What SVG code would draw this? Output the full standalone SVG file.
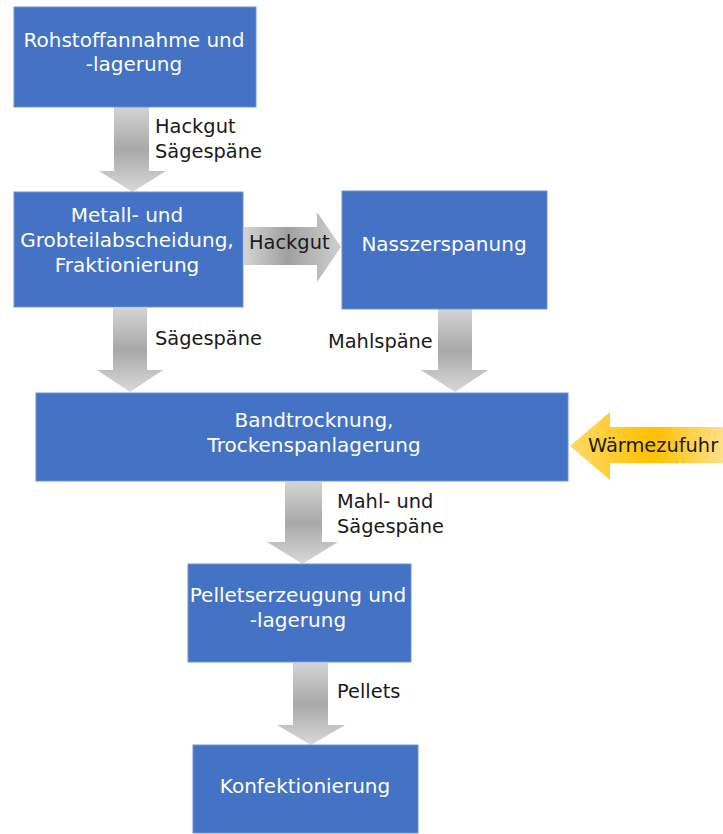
<svg xmlns="http://www.w3.org/2000/svg" width="723" height="834" viewBox="0 0 723 834">
<style>
.box{fill:#4472C4;stroke:#6F93D6;stroke-width:1}
.bt{fill:#fff;font-family:"DejaVu Sans",Verdana,sans-serif;font-size:20px;text-anchor:middle}
.lb{fill:#1a1a1a;font-family:"DejaVu Sans",Verdana,sans-serif;font-size:19.4px}
</style>
<defs>
<linearGradient id="gv" x1="0" y1="0" x2="0" y2="1">
<stop offset="0" stop-color="#D4D4D4"/><stop offset="0.5" stop-color="#A8A8A8"/><stop offset="1" stop-color="#D9D9D9"/>
</linearGradient>
<linearGradient id="gh" x1="0" y1="0" x2="1" y2="0">
<stop offset="0" stop-color="#D4D4D4"/><stop offset="0.45" stop-color="#A0A0A0"/><stop offset="1" stop-color="#D0D0D0"/>
</linearGradient>
<linearGradient id="gy" x1="0" y1="0" x2="1" y2="0">
<stop offset="0" stop-color="#FFD966"/><stop offset="0.55" stop-color="#FFC000"/><stop offset="1" stop-color="#FFE08A"/>
</linearGradient>
</defs>
<g id="connectors">
<path d="M114,107 H149 V171 H166 L132.5,192 L99,171 H114 Z" fill="url(#gv)"/>
<path d="M244,227 H317 V212 L341,247 L317,282 V265 H244 Z" fill="url(#gh)"/>
<path d="M113,308 H147 V370 H163 L130,392 L97,370 H113 Z" fill="url(#gv)"/>
<path d="M438,309 H472 V370 H488 L455,392 L421,370 H438 Z" fill="url(#gv)"/>
<path d="M285,482 H322 V542 H338 L302.5,564 L267,542 H285 Z" fill="url(#gv)"/>
<path d="M293,663 H328 V725 H345 L311,745 L277,725 H293 Z" fill="url(#gv)"/>
<path d="M723,427 H610 V412 L570,446 L610,480 V463 H723 Z" fill="url(#gy)"/>
<text class="lb" x="155" y="133">Hackgut</text>
<text class="lb" x="155" y="158">Sägespäne</text>
<text class="lb" x="249" y="249">Hackgut</text>
<text class="lb" x="155" y="345">Sägespäne</text>
<text class="lb" x="328" y="348">Mahlspäne</text>
<text class="lb" x="588" y="452">Wärmezufuhr</text>
<text class="lb" x="337" y="508">Mahl- und</text>
<text class="lb" x="337" y="533">Sägespäne</text>
<text class="lb" x="337" y="698">Pellets</text>
</g>
<g id="n1"><rect class="box" x="14" y="7" width="242" height="100"/>
<text class="bt" x="134" y="47">Rohstoffannahme und</text><text class="bt" x="134" y="71">-lagerung</text></g>
<g id="n2"><rect class="box" x="14" y="192" width="229" height="115"/>
<text class="bt" x="127" y="222">Metall- und</text><text class="bt" x="127" y="247">Grobteilabscheidung,</text><text class="bt" x="127" y="272">Fraktionierung</text></g>
<g id="n3"><rect class="box" x="342" y="191" width="205" height="118"/>
<text class="bt" x="444" y="251">Nasszerspanung</text></g>
<g id="n4"><rect class="box" x="36" y="393" width="532" height="88"/>
<text class="bt" x="314" y="427">Bandtrocknung,</text><text class="bt" x="314" y="452">Trockenspanlagerung</text></g>
<g id="n5"><rect class="box" x="188" y="564" width="223" height="98"/>
<text class="bt" x="298" y="602">Pelletserzeugung und</text><text class="bt" x="298" y="627">-lagerung</text></g>
<g id="n6"><rect class="box" x="193" y="745" width="225" height="88"/>
<text class="bt" x="305" y="793">Konfektionierung</text></g>
</svg>
